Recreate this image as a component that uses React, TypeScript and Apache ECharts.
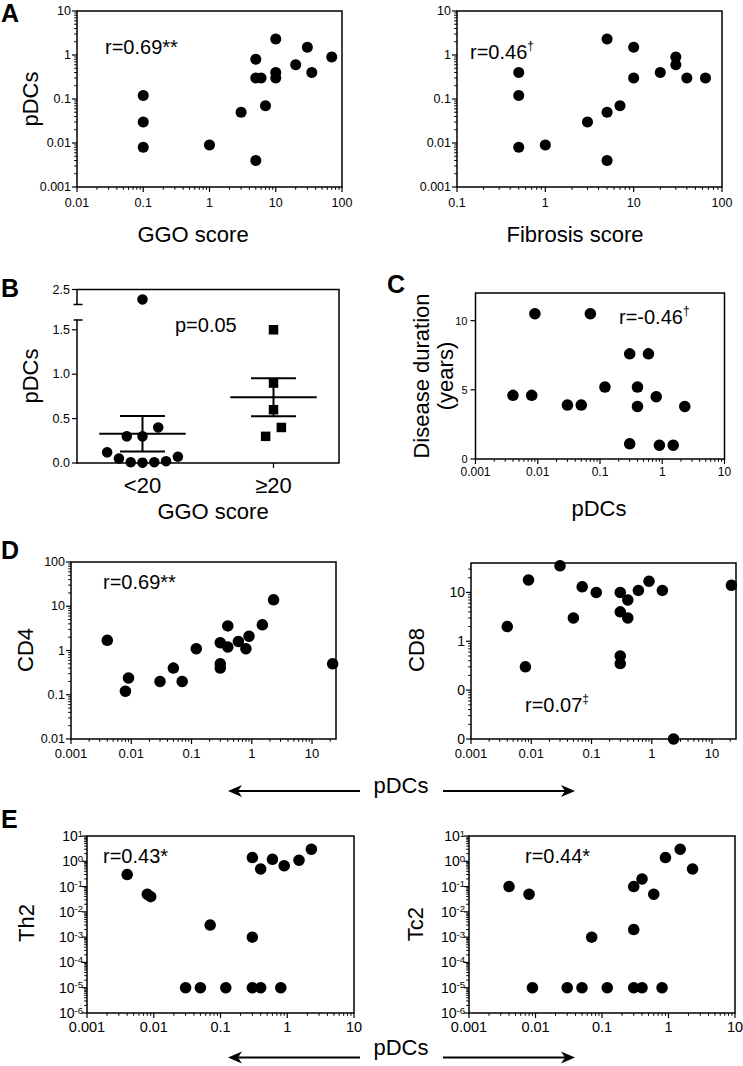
import React, { useEffect, useRef } from "react";
import * as echarts from "echarts";

// ---------- Panel A (left): GGO score vs pDCs ----------
const ggoScore = [0.1, 0.1, 0.1, 1, 3, 5, 5, 6, 7, 5, 10, 10, 10, 20, 30, 35, 70];
const ggoPdcs = [0.12, 0.03, 0.008, 0.009, 0.05, 0.8, 0.3, 0.3, 0.07, 0.004, 2.3, 0.4, 0.3, 0.6, 1.5, 0.4, 0.9];

// ---------- Panel A (right): Fibrosis score vs pDCs ----------
const fibrosisScore = [0.5, 0.5, 0.5, 1, 3, 5, 5, 5, 7, 10, 10, 20, 30, 30, 40, 65];
const fibrosisPdcs = [0.4, 0.12, 0.008, 0.009, 0.03, 0.05, 2.3, 0.004, 0.07, 1.5, 0.3, 0.4, 0.9, 0.6, 0.3, 0.3];

// ---------- Panel B: pDCs by GGO group ----------
const ggoGroups = ["<20", "≥20"];
const lowGgoPdcs = [0.12, 0.05, 0.008, 0.004, 0.009, 0.02, 0.07, 0.3, 0.3, 0.4, 2.3];
const lowGgoJitter = [-0.27, -0.18, -0.09, 0, 0.09, 0.18, 0.27, -0.12, 0, 0.12, 0];
const highGgoPdcs = [1.5, 0.9, 0.6, 0.4, 0.3];
const highGgoJitter = [0, 0, 0, 0.06, -0.06];
const groupMean = [0.33, 0.74];
const groupSem = [0.2, 0.215];
const bLowerTicks = [0, 0.5, 1.0, 1.5];
const bUpperTicks = [2.5];
const bBreakLow = 1.61;
const bBreakHigh = 2.2;
const bTop = 2.5;

// ---------- Panel C: pDCs vs disease duration ----------
const durationPdcs = [0.009, 0.07, 0.3, 0.6, 0.12, 0.4, 0.004, 0.008, 0.8, 0.03, 0.05, 0.4, 2.3, 0.3, 0.9, 1.5];
const durationYears = [10.5, 10.5, 7.6, 7.6, 5.2, 5.2, 4.6, 4.6, 4.5, 3.9, 3.9, 3.8, 3.8, 1.1, 1.0, 1.0];
const durationTicks = [0, 5, 10];

// ---------- Panel D: pDCs vs CD4 / CD8 ----------
const cd4Pdcs = [2.3, 1.5, 0.4, 0.004, 0.008, 0.009, 0.03, 0.05, 0.07, 0.12, 0.3, 0.3, 0.3, 0.4, 0.6, 0.8, 0.9, 22];
const cd4 = [14, 3.8, 3.6, 1.7, 0.12, 0.24, 0.2, 0.4, 0.2, 1.1, 1.5, 0.5, 0.4, 1.2, 1.6, 1.1, 2.1, 0.5];
const cd8Pdcs = [0.03, 0.009, 0.07, 0.12, 0.3, 0.4, 0.6, 0.9, 1.5, 21, 0.3, 0.4, 0.05, 0.004, 0.008, 0.3, 0.3, 2.3];
const cd8 = [35, 18, 13, 10, 10, 7, 11, 17, 11, 14, 4, 3, 3, 2, 0.3, 0.5, 0.35, 0.01];

// ---------- Panel E: pDCs vs Th2 / Tc2 ----------
const th2Pdcs = [0.004, 0.008, 0.009, 0.07, 0.3, 0.03, 0.05, 0.12, 0.3, 0.4, 0.8, 0.3, 0.4, 0.6, 0.9, 1.5, 2.3];
const th2 = [0.3, 0.05, 0.04, 0.003, 0.001, 1e-5, 1e-5, 1e-5, 1e-5, 1e-5, 1e-5, 1.4, 0.5, 1.2, 0.67, 1.1, 3];
const tc2Pdcs = [0.004, 0.008, 0.009, 0.03, 0.05, 0.12, 0.3, 0.4, 0.8, 0.07, 0.3, 0.3, 0.4, 0.6, 0.9, 1.5, 2.3];
const tc2 = [0.1, 0.05, 1e-5, 1e-5, 1e-5, 1e-5, 1e-5, 1e-5, 1e-5, 0.001, 0.002, 0.1, 0.2, 0.05, 1.4, 3, 0.5];

const FONT = '"Liberation Sans", Arial, Helvetica, sans-serif';
const BLACK = "#000";

const isDecade = (v: number) => {
  const l = Math.log10(v);
  return Math.abs(l - Math.round(l)) < 1e-6;
};
const fmtDec = (v: number) => {
  if (!isDecade(v)) return "";
  const e = Math.round(Math.log10(v));
  return e >= 0 ? String(Math.pow(10, e)) : Math.pow(10, e).toFixed(-e);
};
const fmtInt = (v: number) => (isDecade(v) ? String(Math.round(v)) : "");
const fmtPow = (v: number) => (isDecade(v) ? `{b|10}{s|${Math.round(Math.log10(v))}}` : "");

const decadesIn = (min: number, max: number) => {
  const r: number[] = [];
  for (let e = Math.ceil(Math.log10(min) - 1e-9); e <= Math.floor(Math.log10(max) + 1e-9); e++) r.push(Math.pow(10, e));
  return r;
};
const minorsIn = (min: number, max: number) => {
  const r: number[] = [];
  for (let e = Math.floor(Math.log10(min) - 1e-9); e <= Math.floor(Math.log10(max) + 1e-9); e++)
    for (let k = 2; k <= 9; k++) {
      const v = k * Math.pow(10, e);
      if (v > min * 1.000001 && v < max * 0.999999) r.push(v);
    }
  return r;
};

type AxisDef = {
  kind: "log" | "value";
  min: number;
  max: number;
  interval?: number;
  fmt: (v: number) => string;
  fontSize: number;
  margin: number;
  major: number[];
  minor: number[];
  rich?: any;
};

const supRich = {
  b: { fontSize: 14, fontFamily: FONT, color: BLACK, lineHeight: 16 },
  s: { fontSize: 9.5, fontFamily: FONT, color: BLACK, lineHeight: 10, verticalAlign: "top" },
};

const logAxis = (min: number, max: number, fontSize: number, margin: number, fmt: (v: number) => string, rich?: any): AxisDef => ({
  kind: "log",
  min,
  max,
  fmt,
  fontSize,
  margin,
  major: decadesIn(min, max),
  minor: minorsIn(min, max),
  rich,
});

type Panel = { grid: number[]; x: AxisDef; y: AxisDef; xs: number[]; ys: number[]; size: number };

const panels: Panel[] = [
  { grid: [77, 11, 265, 176], x: logAxis(0.01, 100, 12.5, 9, fmtDec), y: logAxis(0.001, 10, 12.5, 6, fmtDec), xs: ggoScore, ys: ggoPdcs, size: 11 },
  { grid: [457, 11, 265, 176], x: logAxis(0.1, 100, 12.5, 9, fmtDec), y: logAxis(0.001, 10, 12.5, 6, fmtDec), xs: fibrosisScore, ys: fibrosisPdcs, size: 11 },
  {
    grid: [475.5, 293, 249, 166],
    x: logAxis(0.001, 10, 12, 7, fmtDec),
    y: { kind: "value", min: 0, max: 12, interval: 5, fmt: (v) => (v % 5 === 0 ? String(v) : ""), fontSize: 11, margin: 8, major: durationTicks, minor: [] },
    xs: durationPdcs,
    ys: durationYears,
    size: 11.5,
  },
  { grid: [71, 562, 265, 177], x: logAxis(0.001, 25, 13, 8, fmtDec), y: logAxis(0.01, 100, 12.5, 6, fmtDec), xs: cd4Pdcs, ys: cd4, size: 11.5 },
  { grid: [471, 563, 265, 176], x: logAxis(0.001, 25, 13, 8, fmtDec), y: logAxis(0.01, 40, 14, 6, fmtInt), xs: cd8Pdcs, ys: cd8, size: 11.5 },
  { grid: [87, 836, 267, 177], x: logAxis(0.001, 10, 14.5, 6, fmtDec), y: logAxis(1e-6, 10, 14, 4, fmtPow, supRich), xs: th2Pdcs, ys: th2, size: 11.5 },
  { grid: [469, 836, 266, 177], x: logAxis(0.001, 10, 14.5, 6, fmtDec), y: logAxis(1e-6, 10, 14, 4, fmtPow, supRich), xs: tc2Pdcs, ys: tc2, size: 11.5 },
];

function tickSeries(xi: number, yi: number, dim: "x" | "y", vals: number[], other: number, len: number, w = 1.2) {
  return {
    type: "custom",
    xAxisIndex: xi,
    yAxisIndex: yi,
    silent: true,
    clip: false,
    z: 3,
    data: vals.map((v) => (dim === "x" ? [v, other] : [other, v])),
    renderItem: (_p: any, api: any) => {
      const p = api.coord([api.value(0), api.value(1)]);
      const shape =
        dim === "x" ? { x1: p[0], y1: p[1], x2: p[0], y2: p[1] + len } : { x1: p[0] - len, y1: p[1], x2: p[0], y2: p[1] };
      return { type: "line", shape, style: { stroke: BLACK, lineWidth: w } };
    },
  };
}

function axisOpt(a: AxisDef, gridIndex: number) {
  const o: any = {
    type: a.kind,
    gridIndex,
    min: a.min,
    max: a.max,
    splitLine: { show: false },
    axisTick: { show: false },
    axisLine: { show: false },
    axisLabel: {
      formatter: a.fmt,
      fontSize: a.fontSize,
      color: BLACK,
      fontFamily: FONT,
      margin: a.margin,
      showMinLabel: true,
      showMaxLabel: true,
    },
  };
  if (a.kind === "log") o.logBase = 10;
  if (a.interval) o.interval = a.interval;
  if (a.rich) o.axisLabel.rich = a.rich;
  return o;
}

const T = (
  text: string,
  x: number,
  y: number,
  size: number,
  o: { rot?: number; align?: string; valign?: string; bold?: boolean; rich?: any } = {}
) => ({
  type: "text",
  x,
  y,
  rotation: o.rot ?? 0,
  z: 100,
  style: {
    text,
    x: 0,
    y: 0,
    fill: BLACK,
    font: `${o.bold ? "bold" : "normal"} ${size}px ${FONT}`,
    align: o.align ?? "center",
    verticalAlign: o.valign ?? "middle",
    textAlign: o.align ?? "center",
    textVerticalAlign: o.valign ?? "middle",
    rich: o.rich,
  },
});

const rRich = {
  a: { fontSize: 20, fontFamily: FONT, color: BLACK, lineHeight: 24 },
  s: { fontSize: 12, fontFamily: FONT, color: BLACK, lineHeight: 12, verticalAlign: "top" },
};

const arrow = (x1: number, x2: number, y: number) => {
  const d = x2 > x1 ? 1 : -1;
  return [
    { type: "line", z: 100, shape: { x1, y1: y, x2: x2 - d * 8, y2: y }, style: { stroke: BLACK, lineWidth: 2 } },
    {
      type: "polygon",
      z: 100,
      shape: { points: [[x2, y], [x2 - d * 14, y - 6], [x2 - d * 10, y], [x2 - d * 14, y + 6]] },
      style: { fill: BLACK },
    },
  ];
};

const dotStyle = { color: BLACK, opacity: 1 };

function buildOption() {
  const grid: any[] = [];
  const xAxis: any[] = [];
  const yAxis: any[] = [];
  const series: any[] = [];

  panels.forEach((p) => {
    const gi = grid.length;
    grid.push({
      left: p.grid[0],
      top: p.grid[1],
      width: p.grid[2],
      height: p.grid[3],
      show: true,
      borderColor: BLACK,
      borderWidth: 1.5,
      backgroundColor: "transparent",
      containLabel: false,
      outerBoundsMode: "none",
    });
    const xi = xAxis.length;
    xAxis.push(axisOpt(p.x, gi));
    const yi = yAxis.length;
    yAxis.push(axisOpt(p.y, gi));
    series.push({
      type: "scatter",
      xAxisIndex: xi,
      yAxisIndex: yi,
      symbol: "circle",
      symbolSize: p.size,
      itemStyle: dotStyle,
      clip: false,
      z: 4,
      data: p.xs.map((x, i) => [x, p.ys[i]]),
    });
    series.push(tickSeries(xi, yi, "x", p.x.major, p.y.min, 5));
    series.push(tickSeries(xi, yi, "x", p.x.minor, p.y.min, 2.8, 1));
    series.push(tickSeries(xi, yi, "y", p.y.major, p.x.min, 5));
    if (p.y.minor.length) series.push(tickSeries(xi, yi, "y", p.y.minor, p.x.min, 2.8, 1));
  });

  // ---------- Panel B (broken y axis: two grids) ----------
  const gU = grid.length;
  grid.push({ left: 77, top: 289.5, width: 262, height: 15, outerBoundsMode: "none" });
  const gL = grid.length;
  grid.push({ left: 77, top: 320, width: 262, height: 143, outerBoundsMode: "none" });

  const xU = xAxis.length;
  xAxis.push({ type: "value", gridIndex: gU, min: 0, max: 2, show: false });
  xAxis.push({
    type: "category",
    gridIndex: gL,
    data: ggoGroups,
    axisLine: { show: true, lineStyle: { color: BLACK, width: 1.5 } },
    axisTick: { show: false },
    splitLine: { show: false },
    axisLabel: { fontSize: 22, color: BLACK, fontFamily: FONT, margin: 11 },
  });
  const xL = xAxis.length;
  xAxis.push({ type: "value", gridIndex: gL, min: 0, max: 2, show: false });

  const yU = yAxis.length;
  yAxis.push({
    type: "value",
    gridIndex: gU,
    min: bBreakHigh,
    max: bTop,
    splitLine: { show: false },
    axisTick: { show: false },
    axisLine: { show: true, lineStyle: { color: BLACK, width: 1.5 } },
    axisLabel: {
      formatter: (v: number) => (bUpperTicks.some((t) => Math.abs(t - v) < 1e-6) ? v.toFixed(1) : ""),
      fontSize: 12.5,
      color: BLACK,
      fontFamily: FONT,
      margin: 7,
      showMaxLabel: true,
    },
  });
  const yL = yAxis.length;
  yAxis.push({
    type: "value",
    gridIndex: gL,
    min: 0,
    max: bBreakLow,
    interval: 0.5,
    splitLine: { show: false },
    axisTick: { show: false },
    axisLine: { show: true, lineStyle: { color: BLACK, width: 1.5 } },
    axisLabel: {
      formatter: (v: number) => (Math.abs(v * 2 - Math.round(v * 2)) < 1e-6 ? v.toFixed(1) : ""),
      fontSize: 12.5,
      color: BLACK,
      fontFamily: FONT,
      margin: 7,
    },
  });

  const lowPts = lowGgoPdcs.map((v, i) => [0.5 + lowGgoJitter[i], v]);
  series.push({
    type: "custom",
    xAxisIndex: xL,
    yAxisIndex: yL,
    silent: true,
    clip: false,
    z: 3,
    data: groupMean.map((m, i) => [i + 0.5, m, groupSem[i]]),
    renderItem: (_p: any, api: any) => {
      const c = api.value(0);
      const m = api.value(1);
      const s = api.value(2);
      const pl = api.coord([c - 0.33, m]);
      const pr = api.coord([c + 0.33, m]);
      const ph = api.coord([c, m + s]);
      const pb = api.coord([c, m - s]);
      const cap = (pr[0] - pl[0]) * 0.26;
      const st = { stroke: BLACK, lineWidth: 2 };
      return {
        type: "group",
        children: [
          { type: "line", shape: { x1: pl[0], y1: pl[1], x2: pr[0], y2: pr[1] }, style: st },
          { type: "line", shape: { x1: ph[0], y1: ph[1], x2: pb[0], y2: pb[1] }, style: st },
          { type: "line", shape: { x1: ph[0] - cap, y1: ph[1], x2: ph[0] + cap, y2: ph[1] }, style: st },
          { type: "line", shape: { x1: pb[0] - cap, y1: pb[1], x2: pb[0] + cap, y2: pb[1] }, style: st },
        ],
      };
    },
  });
  series.push({
    type: "scatter",
    xAxisIndex: xL,
    yAxisIndex: yL,
    symbol: "circle",
    symbolSize: 10.5,
    itemStyle: dotStyle,
    clip: false,
    z: 4,
    data: lowPts.filter((d) => d[1] <= bBreakLow),
  });
  series.push({
    type: "scatter",
    xAxisIndex: xU,
    yAxisIndex: yU,
    symbol: "circle",
    symbolSize: 10.5,
    itemStyle: dotStyle,
    clip: false,
    z: 4,
    data: lowPts.filter((d) => d[1] > bBreakLow),
  });
  series.push({
    type: "scatter",
    xAxisIndex: xL,
    yAxisIndex: yL,
    symbol: "rect",
    symbolSize: 9.5,
    itemStyle: dotStyle,
    clip: false,
    z: 4,
    data: highGgoPdcs.map((v, i) => [1.5 + highGgoJitter[i], v]),
  });
  series.push(tickSeries(xL, yL, "x", ggoGroups.map((_, i) => i + 0.5), 0, 5));
  series.push(tickSeries(xL, yL, "y", bLowerTicks, 0, 5));
  series.push(tickSeries(xU, yU, "y", bUpperTicks, 0, 5));

  const graphic: any[] = [
    // Panel B frame (top, right) and axis-break caps
    { type: "polyline", z: 50, shape: { points: [[77, 289.5], [339, 289.5], [339, 463]] }, style: { stroke: BLACK, lineWidth: 1.5, fill: "none" } },
    { type: "line", z: 50, shape: { x1: 73.5, y1: 304.5, x2: 82.5, y2: 304.5 }, style: { stroke: BLACK, lineWidth: 1.5 } },
    { type: "line", z: 50, shape: { x1: 73.5, y1: 320, x2: 82.5, y2: 320 }, style: { stroke: BLACK, lineWidth: 1.5 } },

    // Panel letters
    T("A", 1, 0, 25, { align: "left", valign: "top", bold: true }),
    T("B", 1, 287.5, 25, { align: "left", bold: true }),
    T("C", 387, 284, 25, { align: "left", bold: true }),
    T("D", 1, 550, 25, { align: "left", bold: true }),
    T("E", 1, 819, 25, { align: "left", bold: true }),

    // Axis titles
    T("pDCs", 30, 99, 22, { rot: Math.PI / 2 }),
    T("GGO score", 193, 234, 22),
    T("Fibrosis score", 575, 234, 22),
    T("pDCs", 30, 376, 22, { rot: Math.PI / 2 }),
    T("GGO score", 213, 511, 22),
    T("Disease duration", 421, 376, 22, { rot: Math.PI / 2 }),
    T("(years)", 445, 376, 22, { rot: Math.PI / 2 }),
    T("pDCs", 599, 508, 22),
    T("CD4", 25, 650, 22, { rot: Math.PI / 2 }),
    T("CD8", 416, 650, 22, { rot: Math.PI / 2 }),
    T("pDCs", 401, 785, 22),
    T("Th2", 26, 923, 22, { rot: Math.PI / 2 }),
    T("Tc2", 415, 924, 22, { rot: Math.PI / 2 }),
    T("pDCs", 401, 1047, 22),

    // Statistics annotations
    T("r=0.69**", 105, 47, 20, { align: "left" }),
    T("{a|r=0.46}{s|†}", 470, 52, 20, { align: "left", rich: rRich }),
    T("p=0.05", 175, 325, 20, { align: "left" }),
    T("{a|r=-0.46}{s|†}", 619, 317, 20, { align: "left", rich: rRich }),
    T("r=0.69**", 103, 582, 20, { align: "left" }),
    T("{a|r=0.07}{s|‡}", 525, 705, 20, { align: "left", rich: rRich }),
    T("r=0.43*", 103, 856, 20, { align: "left" }),
    T("r=0.44*", 525, 856, 20, { align: "left" }),

    // pDCs arrows
    ...arrow(360, 228, 791),
    ...arrow(443, 575, 791),
    ...arrow(360, 228, 1057.5),
    ...arrow(443, 575, 1057.5),
  ];

  return {
    animation: false,
    backgroundColor: "#fff",
    textStyle: { fontFamily: FONT },
    grid,
    xAxis,
    yAxis,
    series,
    graphic,
  };
}

export default function App() {
  const ref = useRef<HTMLDivElement>(null);
  useEffect(() => {
    if (!ref.current) return;
    const chart = echarts.init(ref.current, null, { renderer: "svg" });
    chart.setOption(buildOption() as any);
    return () => chart.dispose();
  }, []);
  return (
    <div
      ref={ref}
      style={{ position: "fixed", left: 0, top: 0, width: 743, height: 1066, background: "#fff" }}
    />
  );
}
